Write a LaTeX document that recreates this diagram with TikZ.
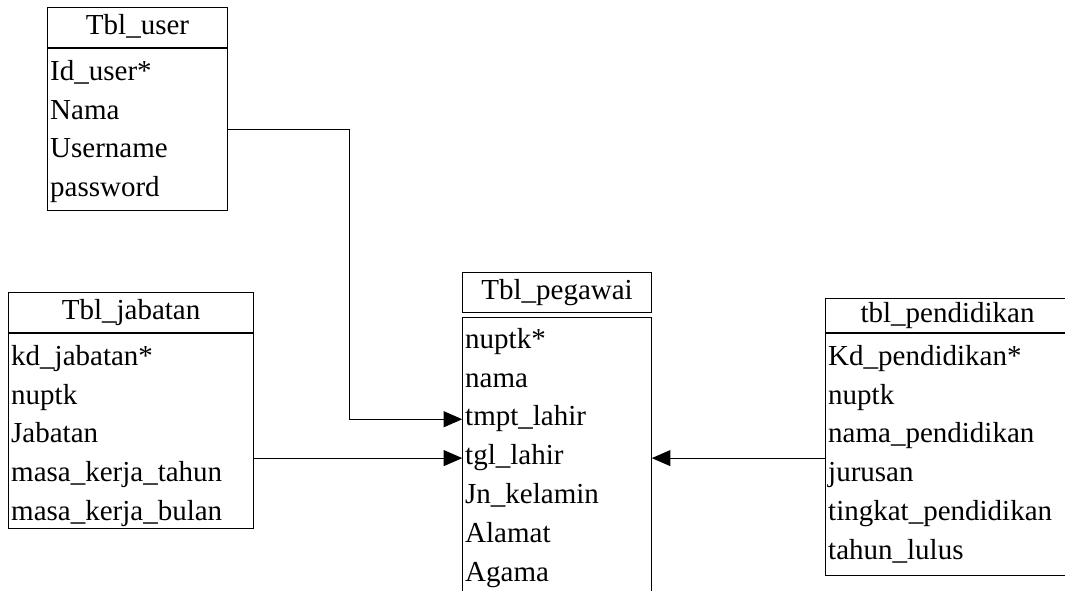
\documentclass[tikz,border=0pt]{standalone}
\usepackage{fontspec}
\setmainfont{Liberation Serif}
\usetikzlibrary{arrows.meta,positioning}
\newcommand{\tblfont}{\fontsize{21.75}{28.5}\selectfont}

\begin{document}
\begin{tikzpicture}[x=0.75pt, y=-0.75pt,
  tblhead/.style={draw, line width=0.8pt, anchor=north west, inner sep=0pt,
                  minimum height=30pt, text height=15pt, text depth=5pt,
                  font=\tblfont},
  tblbody/.style={draw, line width=0.8pt, anchor=north west, inner sep=0pt},
  row/.style={text width=#1, inner xsep=2pt, inner ysep=0pt,
              minimum height=28.75pt, text height=15pt, text depth=5pt,
              align=left, font=\tblfont},
  arr/.style={-{Triangle[length=14pt,width=12pt]}, line width=0.8pt},
  node distance=0pt,
]
\useasboundingbox (0,0) rectangle (1065,590);

% Tbl_user
\node[tblhead, minimum width=135pt] (userhead) at (47,7) {Tbl\_user};
\node[tblbody, minimum width=135pt, minimum height=121.5pt] (userbody) at (userhead.south west) {};
\node[row=131pt, below=4.5pt of userbody.north] (user1) {Id\_user*};
\node[row=131pt, below=of user1] (user2) {Nama};
\node[row=131pt, below=of user2] (user3) {Username};
\node[row=131pt, below=of user3] (user4) {password};

% Tbl_jabatan
\node[tblhead, minimum width=183.75pt] (jabhead) at (8,292) {Tbl\_jabatan};
\node[tblbody, minimum width=183.75pt, minimum height=146.25pt] (jabbody) at (jabhead.south west) {};
\node[row=179.75pt, below=4.5pt of jabbody.north] (jab1) {kd\_jabatan*};
\node[row=179.75pt, below=of jab1] (jab2) {nuptk};
\node[row=179.75pt, below=of jab2] (jab3) {Jabatan};
\node[row=179.75pt, below=of jab3] (jab4) {masa\_kerja\_tahun};
\node[row=179.75pt, below=of jab4] (jab5) {masa\_kerja\_bulan};

% Tbl_pegawai (header box apart from body)
\node[tblhead, minimum width=141.75pt] (peghead) at (462,272) {Tbl\_pegawai};
\node[tblbody, minimum width=141.75pt, minimum height=217.5pt] (pegbody) at ([yshift=-3pt]peghead.south west) {};
\node[row=137.75pt, below=3.75pt of pegbody.north] (peg1) {nuptk*};
\node[row=137.75pt, below=of peg1] (peg2) {nama};
\node[row=137.75pt, below=of peg2] (peg3) {tmpt\_lahir};
\node[row=137.75pt, below=of peg3] (peg4) {tgl\_lahir};
\node[row=137.75pt, below=of peg4] (peg5) {Jn\_kelamin};
\node[row=137.75pt, below=of peg5] (peg6) {Alamat};
\node[row=137.75pt, below=of peg6] (peg7) {Agama};

% tbl_pendidikan
\node[tblhead, minimum width=183pt, minimum height=25.5pt] (pendhead) at (825,298) {tbl\_pendidikan};
\node[tblbody, minimum width=183pt, minimum height=181.5pt] (pendbody) at (pendhead.south west) {};
\node[row=179pt, below=4.5pt of pendbody.north] (pend1) {Kd\_pendidikan*};
\node[row=179pt, below=of pend1] (pend2) {nuptk};
\node[row=179pt, below=of pend2] (pend3) {nama\_pendidikan};
\node[row=179pt, below=of pend3] (pend4) {jurusan};
\node[row=179pt, below=of pend4] (pend5) {tingkat\_pendidikan};
\node[row=179pt, below=of pend5] (pend6) {tahun\_lulus};

% Relations
\draw[arr] (userbody.east) -- ++(90.75pt,0) |- (peg3.west);
\draw[arr] (jabbody.east |- peg4.west) -- (peg4.west);
\draw[arr] (pendbody.west |- peg4.east) -- (peg4.east);
\end{tikzpicture}
\end{document}
